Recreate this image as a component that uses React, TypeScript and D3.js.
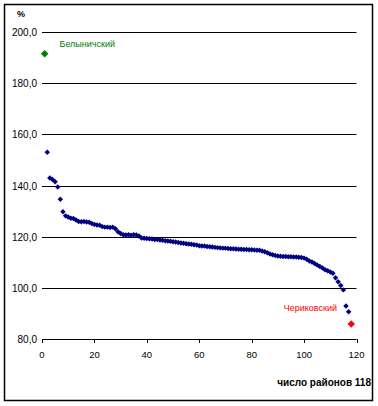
import React from "react";
import * as d3 from "d3";

const yTicks = [80, 100, 120, 140, 160, 180, 200];
const xTicks = [0, 20, 40, 60, 80, 100, 120];

// rank 2..117
const mainValues = [
  153.0, 143.0, 142.4, 141.5, 139.5, 134.7, 129.8, 128.2, 127.8, 127.3,
  127.2, 126.6, 126.0, 125.9, 126.0, 125.8, 125.7, 125.2, 124.8, 124.6,
  124.5, 124.0, 123.8, 123.8, 123.7, 123.8, 123.2, 122.0, 121.3, 120.8,
  120.7, 120.8, 120.6, 120.8, 120.7, 120.3, 119.6, 119.5, 119.4, 119.3,
  119.2, 119.0, 119.0, 118.8, 118.7, 118.5, 118.4, 118.3, 118.1, 118.0,
  117.8, 117.6, 117.5, 117.3, 117.2, 117.1, 116.9, 116.8, 116.5, 116.4,
  116.4, 116.2, 116.1, 116.0, 115.9, 115.8, 115.7, 115.6, 115.6, 115.5,
  115.4, 115.4, 115.3, 115.2, 115.2, 115.1, 115.1, 115.0, 115.0, 114.9,
  114.8, 114.8, 114.5, 114.2, 113.8, 113.3, 113.0, 112.7, 112.5, 112.4,
  112.3, 112.3, 112.2, 112.2, 112.1, 112.1, 112.0, 111.9, 111.7, 111.3,
  110.6, 110.2, 109.6, 109.0, 108.4, 107.8, 107.2, 106.8, 106.3, 105.8,
  104.0, 102.5, 101.0, 99.3, 93.0, 90.8,
];
const firstRank = 2;

const topLabel = "Белыничский";
const topPoint = { rank: 1, value: 191.5 };
const bottomLabel = "Чериковский";
const bottomPoint = { rank: 118, value: 86.0 };

const axisTitle = "число районов 118";
const unitLabel = "%";

export default function App() {
  const x = d3.scaleLinear().domain([0, 120]).range([42, 356.5]);
  const y = d3.scaleLinear().domain([80, 200]).range([339.3, 32]);
  const fmt = (v: number) => v.toFixed(1).replace(".", ",");
  const small = d3.symbol().type(d3.symbolSquare).size(15)();
  const big = d3.symbol().type(d3.symbolSquare).size(28)();
  const font = "Arial, 'Liberation Sans', sans-serif";

  return (
    <svg
      width={378}
      height={406}
      style={{ position: "absolute", left: 0, top: 0, background: "#fff" }}
      fontFamily={font}
    >
      <rect x={4.5} y={4.5} width={368} height={396} fill="#fff" stroke="#000" strokeWidth={1.5} />
      {yTicks.map((t) => (
        <g key={t}>
          <line x1={x(0)} x2={x(120)} y1={Math.round(y(t)) + 0.5} y2={Math.round(y(t)) + 0.5} stroke="#000" strokeWidth={1} />
          <text x={37} y={Math.round(y(t)) + 0.5} dy="0.35em" textAnchor="end" fontSize={10} fill="#000">
            {fmt(t)}
          </text>
        </g>
      ))}
      {xTicks.map((t) => (
        <g key={t}>
          <line x1={Math.round(x(t)) + 0.5} x2={Math.round(x(t)) + 0.5} y1={Math.round(y(80))} y2={Math.round(y(80)) + 4} stroke="#000" />
          <text x={x(t)} y={358} textAnchor="middle" fontSize={9.5} fill="#000">
            {t}
          </text>
        </g>
      ))}
      <text x={21} y={17} textAnchor="middle" fontSize={9} fontWeight="bold" fill="#000">
        {unitLabel}
      </text>
      {mainValues.map((v, i) => (
        <path
          key={i}
          d={small}
          transform={`translate(${x(firstRank + i)},${y(v)}) rotate(45)`}
          fill="#000080"
        />
      ))}
      <path d={big} transform={`translate(${x(topPoint.rank)},${y(topPoint.value)}) rotate(45)`} fill="#008000" />
      <path d={big} transform={`translate(${x(bottomPoint.rank)},${y(bottomPoint.value)}) rotate(45)`} fill="#ff0000" />
      <text x={59.5} y={46.5} fontSize={9} fill="#008000">
        {topLabel}
      </text>
      <text x={337} y={311} textAnchor="end" fontSize={9} fill="#ff0000">
        {bottomLabel}
      </text>
      <text x={371} y={386} textAnchor="end" fontSize={10} fontWeight="bold" fill="#000">
        {axisTitle}
      </text>
    </svg>
  );
}
